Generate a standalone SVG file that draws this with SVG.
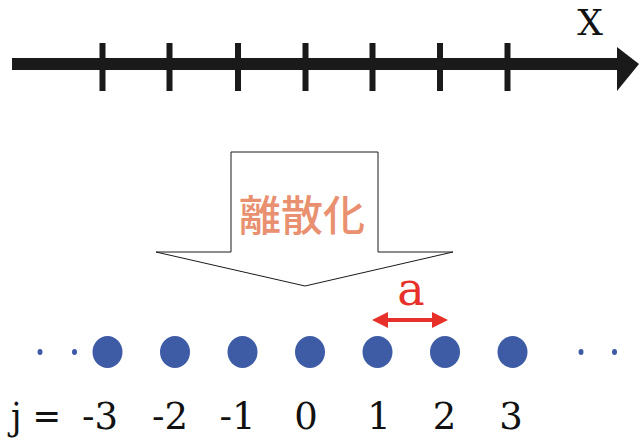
<svg xmlns="http://www.w3.org/2000/svg" width="639" height="441" viewBox="0 0 639 441">
<defs>
<style>
.serif{font-family:"DejaVu Serif","Liberation Serif",serif;fill:#111;}
.tick{fill:#1a1a1a;}
.site{fill:#3E5BA6;}
.lbl{font-size:37px;text-anchor:middle;}
</style>
<marker id="redhead" markerWidth="4" markerHeight="4" refX="2.5" refY="2" orient="auto-start-reverse" markerUnits="strokeWidth" viewBox="0 0 4 4">
<path d="M0,0 L4,2 L0,4 Z" fill="#E8302A"/>
</marker>
</defs>
<rect width="639" height="441" fill="#fff"/>
<g id="axis">
<rect x="12" y="58" width="608" height="12" fill="#1a1a1a"/>
<path d="M617,47 L639,64 L617,91 Z" fill="#1a1a1a"/>
<rect class="tick" x="99.5" y="43" width="6" height="48"/>
<rect class="tick" x="166.5" y="43" width="6" height="48"/>
<rect class="tick" x="235" y="43" width="6" height="48"/>
<rect class="tick" x="302.5" y="43" width="6" height="48"/>
<rect class="tick" x="369.5" y="43" width="6" height="48"/>
<rect class="tick" x="437" y="43" width="6" height="48"/>
<rect class="tick" x="504.5" y="43" width="6" height="48"/>
<text class="serif" x="590" y="35" font-size="36" text-anchor="middle">X</text>
</g>
<g id="discretize">
<path d="M231,152 L378,152 L378,252 L453,252 L305,286 L156,252 L231,252 Z" fill="#fff" stroke="#1a1a1a" stroke-width="1"/>
<text x="302" y="231" font-family="'Noto Sans CJK JP','Noto Sans CJK SC',sans-serif" font-size="42" font-weight="500" fill="#E8906F" text-anchor="middle">離散化</text>
</g>
<g id="lattice">
<ellipse class="site" cx="40" cy="352" rx="2.5" ry="3"/>
<ellipse class="site" cx="74.5" cy="352" rx="2.5" ry="3"/>
<ellipse class="site" cx="107.5" cy="352" rx="15" ry="16"/>
<ellipse class="site" cx="175" cy="352" rx="15" ry="16"/>
<ellipse class="site" cx="242.5" cy="352" rx="15" ry="16"/>
<ellipse class="site" cx="310" cy="352" rx="15" ry="16"/>
<ellipse class="site" cx="377.5" cy="352" rx="15" ry="16"/>
<ellipse class="site" cx="445" cy="352" rx="15" ry="16"/>
<ellipse class="site" cx="512.5" cy="352" rx="15" ry="16"/>
<ellipse class="site" cx="581" cy="352" rx="2.5" ry="3"/>
<ellipse class="site" cx="614.5" cy="352" rx="2.5" ry="3"/>
</g>
<g id="labels">
<text class="serif" x="11" y="429" font-size="37" textLength="50" lengthAdjust="spacingAndGlyphs">j =</text>
<text class="serif lbl" x="100" y="429">-3</text>
<text class="serif lbl" x="170" y="429">-2</text>
<text class="serif lbl" x="237.5" y="429">-1</text>
<text class="serif lbl" x="306" y="429">0</text>
<text class="serif lbl" x="379" y="429">1</text>
<text class="serif lbl" x="444.5" y="429">2</text>
<text class="serif lbl" x="511" y="429">3</text>
</g>
<g id="connectors">
<line x1="378" y1="320" x2="442" y2="320" stroke="#E8302A" stroke-width="4" marker-start="url(#redhead)" marker-end="url(#redhead)"/>
<text class="serif" x="411" y="305" font-size="46" style="fill:#E8302A" text-anchor="middle">a</text>
</g>
</svg>
